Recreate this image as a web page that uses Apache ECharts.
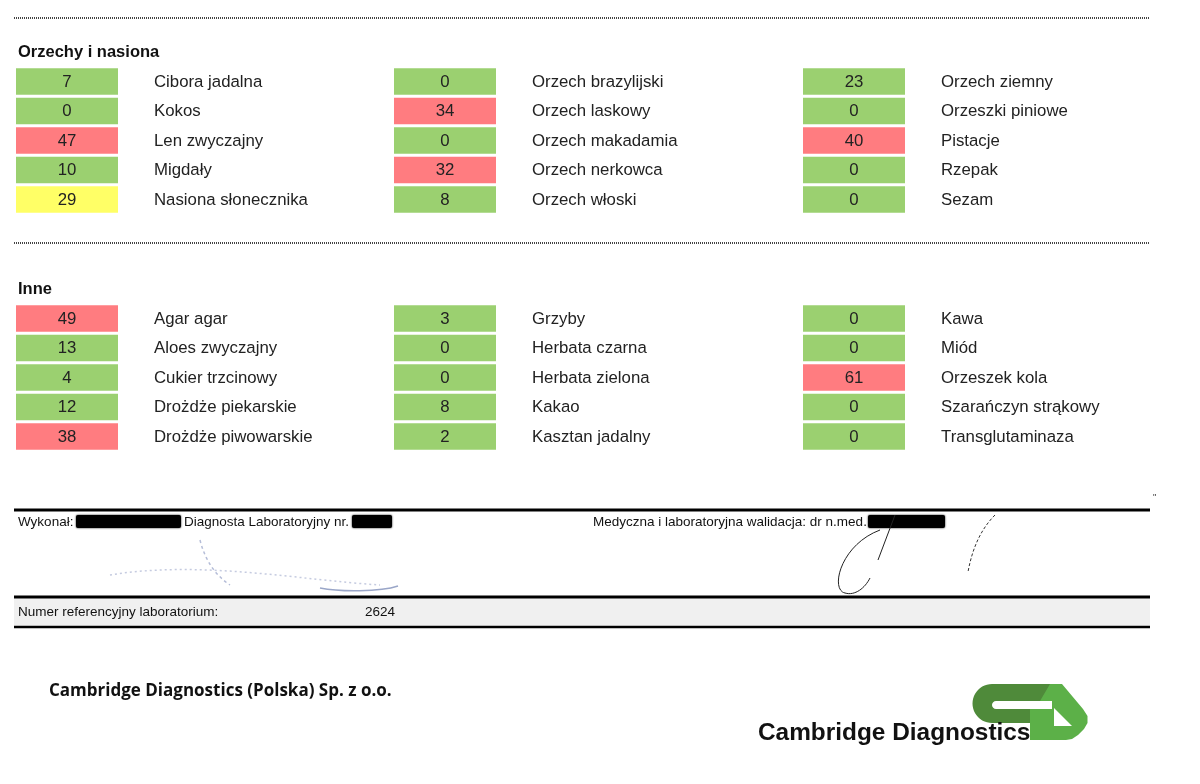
<!DOCTYPE html>
<html>
<head>
<meta charset="utf-8">
<script src="https://cdn.jsdelivr.net/npm/echarts@6/dist/echarts.min.js"></script>
<style>
html,body{margin:0;padding:0;background:#fff;}
#chart{width:1200px;height:784px;}
</style>
</head>
<body>
<div id="chart"></div>
<script>
// ---- data ----
const sectionTitles = ['Orzechy i nasiona', 'Inne'];

const nutsCol1Names = ['Cibora jadalna', 'Kokos', 'Len zwyczajny', 'Migdały', 'Nasiona słonecznika'];
const nutsCol1Values = [7, 0, 47, 10, 29];
const nutsCol2Names = ['Orzech brazylijski', 'Orzech laskowy', 'Orzech makadamia', 'Orzech nerkowca', 'Orzech włoski'];
const nutsCol2Values = [0, 34, 0, 32, 8];
const nutsCol3Names = ['Orzech ziemny', 'Orzeszki piniowe', 'Pistacje', 'Rzepak', 'Sezam'];
const nutsCol3Values = [23, 0, 40, 0, 0];

const otherCol1Names = ['Agar agar', 'Aloes zwyczajny', 'Cukier trzcinowy', 'Drożdże piekarskie', 'Drożdże piwowarskie'];
const otherCol1Values = [49, 13, 4, 12, 38];
const otherCol2Names = ['Grzyby', 'Herbata czarna', 'Herbata zielona', 'Kakao', 'Kasztan jadalny'];
const otherCol2Values = [3, 0, 0, 8, 2];
const otherCol3Names = ['Kawa', 'Miód', 'Orzeszek kola', 'Szarańczyn strąkowy', 'Transglutaminaza'];
const otherCol3Values = [0, 0, 61, 0, 0];

const labReferenceNumber = '2624';

// ---- layout / style ----
const colLefts = [16, 394, 803];
const cellWidth = 102;
const sectionTops = [66.75, 303.75];
const sectionHeight = 147.5;
const labelOffset = 138;
const FONT = '"Liberation Sans", Arial, sans-serif';
const GREEN = '#9bd070', RED = '#ff7c80', YELLOW = '#ffff66';
function cellColor(v) { return v >= 30 ? RED : (v >= 25 ? YELLOW : GREEN); }

const blocks = [
  [0, 0, nutsCol1Names, nutsCol1Values],
  [0, 1, nutsCol2Names, nutsCol2Values],
  [0, 2, nutsCol3Names, nutsCol3Values],
  [1, 0, otherCol1Names, otherCol1Values],
  [1, 1, otherCol2Names, otherCol2Values],
  [1, 2, otherCol3Names, otherCol3Values]
];

const grids = [], xAxes = [], yAxes = [], series = [];
blocks.forEach((b, i) => {
  const [s, c, names, values] = b;
  grids.push({ left: colLefts[c], top: sectionTops[s], width: cellWidth, height: sectionHeight, containLabel: false });
  xAxes.push({ type: 'category', gridIndex: i, data: ['v'], show: false });
  yAxes.push({ type: 'category', gridIndex: i, data: names, inverse: true, show: false });
  series.push({
    type: 'custom',
    xAxisIndex: i, yAxisIndex: i,
    clip: false,
    silent: true,
    data: values.map((v, r) => ({ value: [0, r, v], name: names[r] })),
    renderItem: function (params, api) {
      const r = api.value(1), v = api.value(2);
      const p = api.coord([0, r]);
      const w = api.size([1, 0])[0];
      const band = api.size([0, 1])[1];
      const h = band * 0.9;
      const x0 = p[0] - w / 2;
      return {
        type: 'group',
        children: [
          { type: 'rect', shape: { x: x0, y: p[1] - h / 2, width: w, height: h }, style: { fill: cellColor(v) } },
          { type: 'text', style: { text: String(v), x: p[0], y: p[1] + 0.5, align: 'center', verticalAlign: 'middle', font: '16.8px ' + FONT, fill: '#222' } },
          { type: 'text', style: { text: names[r], x: x0 + labelOffset, y: p[1] + 0.5, align: 'left', verticalAlign: 'middle', font: '16.8px ' + FONT, fill: '#222' } }
        ]
      };
    }
  });
});

function hline(y, w, dash, color) {
  return { type: 'line', silent: true, shape: { x1: 14, y1: y, x2: 1150, y2: y }, style: { stroke: color || '#000', lineWidth: w, lineDash: dash || null } };
}
function txt(t, x, y, font, fill, align) {
  return { type: 'text', silent: true, style: { text: t, x: x, y: y, font: font, fill: fill || '#111', align: align || 'left', verticalAlign: 'middle' } };
}
function bar(x1, x2) {
  return { type: 'rect', silent: true, shape: { x: x1, y: 515, width: x2 - x1, height: 13, r: 2 }, style: { fill: '#000', shadowBlur: 2, shadowColor: '#000' } };
}
function arcPts(cx, cy, r, a0, a1, n) {
  const pts = [];
  for (let k = 0; k <= n; k++) {
    const a = (a0 + (a1 - a0) * k / n) * Math.PI / 180;
    pts.push([cx + r * Math.cos(a), cy + r * Math.sin(a)]);
  }
  return pts;
}

// logo outlines (decoration)
const logoC = [[1052, 684], [1052, 701], [996, 701]]
  .concat(arcPts(996, 705, 4, 270, 90, 8))
  .concat([[1040, 709], [1040, 723], [992, 723]])
  .concat(arcPts(992, 703.5, 19.5, 90, 270, 24));
const logoD = [[1050, 684], [1062, 684], [1083, 709], [1087.5, 716], [1087.5, 723], [1084, 729], [1078, 735], [1072, 739], [1066, 740], [1030, 740], [1030, 709], [1052, 709], [1052, 701], [1040, 701]];

const graphics = [
  hline(18, 2, [1, 1], '#444'),
  txt(sectionTitles[0], 18, 52, 'bold 16.5px ' + FONT, '#111'),
  hline(243, 2, [1, 1], '#444'),
  txt(sectionTitles[1], 18, 289, 'bold 16.5px ' + FONT, '#111'),

  hline(510, 3),
  txt('Wykonał:', 18, 522, '13.5px ' + FONT, '#111'),
  bar(76, 181),
  txt('Diagnosta Laboratoryjny nr.', 184, 522, '13.5px ' + FONT, '#111'),
  bar(352, 392),
  txt('Medyczna i laboratoryjna walidacja: dr n.med.', 593, 522, '13.5px ' + FONT, '#111'),
  bar(868, 945),

  // left faint signature
  { type: 'bezierCurve', silent: true, shape: { x1: 110, y1: 575, x2: 380, y2: 585, cpx1: 200, cpy1: 560, cpx2: 300, cpy2: 580 }, style: { stroke: '#c5cbe0', lineWidth: 1.5, lineDash: [2, 3], fill: null } },
  { type: 'bezierCurve', silent: true, shape: { x1: 200, y1: 540, x2: 230, y2: 585, cpx1: 205, cpy1: 560, cpx2: 215, cpy2: 575 }, style: { stroke: '#b5bdd8', lineWidth: 1.5, lineDash: [3, 3], fill: null } },
  { type: 'bezierCurve', silent: true, shape: { x1: 320, y1: 588, x2: 398, y2: 586, cpx1: 340, cpy1: 592, cpx2: 380, cpy2: 592 }, style: { stroke: '#9aa6c8', lineWidth: 1.5, fill: null } },
  // right signature
  { type: 'bezierCurve', silent: true, shape: { x1: 880, y1: 530, x2: 845, y2: 593, cpx1: 840, cpy1: 545, cpx2: 830, cpy2: 590 }, style: { stroke: '#222', lineWidth: 1, fill: null } },
  { type: 'bezierCurve', silent: true, shape: { x1: 845, y1: 593, x2: 870, y2: 578, cpx1: 855, cpy1: 596, cpx2: 865, cpy2: 588 }, style: { stroke: '#222', lineWidth: 1, fill: null } },
  { type: 'line', silent: true, shape: { x1: 895, y1: 515, x2: 878, y2: 560 }, style: { stroke: '#222', lineWidth: 1 } },
  { type: 'bezierCurve', silent: true, shape: { x1: 995, y1: 515, x2: 968, y2: 572, cpx1: 980, cpy1: 530, cpx2: 972, cpy2: 550 }, style: { stroke: '#333', lineWidth: 1, lineDash: [3, 2], fill: null } },

  { type: 'rect', silent: true, shape: { x: 14, y: 598.5, width: 1136, height: 27 }, style: { fill: '#f0f0f0' } },
  hline(597, 3),
  hline(627, 2.5),
  txt('Numer referencyjny laboratorium:', 18, 612, '13.5px ' + FONT, '#111'),
  txt(labReferenceNumber, 365, 612, '13.5px ' + FONT, '#111'),
  txt('"', 1153, 498, '9px ' + FONT, '#333'),

  txt('Cambridge Diagnostics (Polska) Sp. z o.o.', 49, 691, 'bold 17px "Open Sans", sans-serif', '#111'),

  // logo
  { type: 'polygon', silent: true, shape: { points: logoC }, style: { fill: '#4f8a3a' } },
  { type: 'polygon', silent: true, shape: { points: logoD }, style: { fill: '#5cb048' } },
  { type: 'polygon', silent: true, shape: { points: [[1054, 708], [1054, 726], [1072, 726]] }, style: { fill: '#fff' } },
  txt('Cambridge Diagnostics', 758, 733, 'bold 24.4px ' + FONT, '#111')
];

const chart = echarts.init(document.getElementById('chart'), null, { renderer: 'canvas' });
chart.setOption({
  backgroundColor: '#fff',
  animation: false,
  grid: grids,
  xAxis: xAxes,
  yAxis: yAxes,
  series: series,
  graphic: { elements: graphics }
});
</script>
</body>
</html>
